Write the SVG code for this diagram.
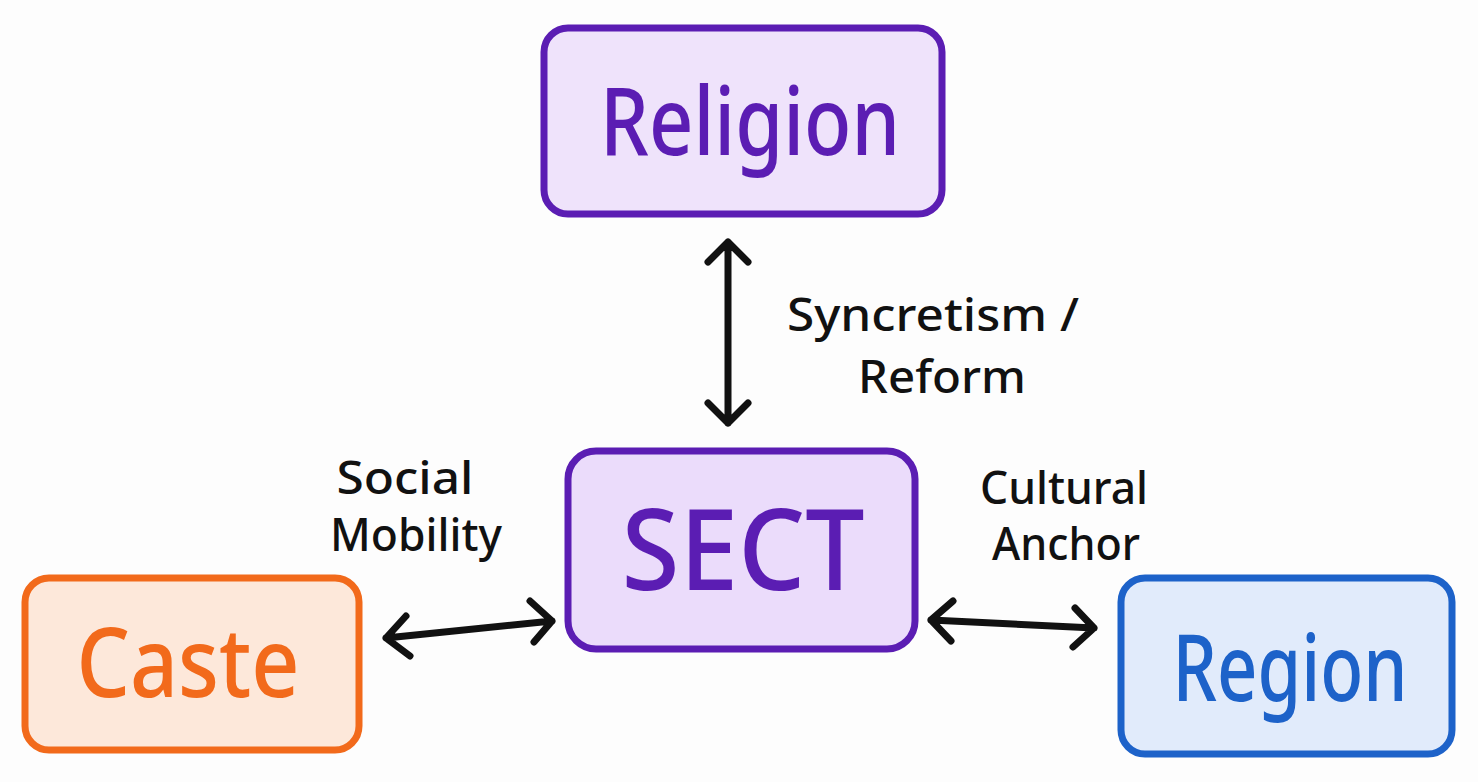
<svg xmlns="http://www.w3.org/2000/svg" width="1478" height="782" viewBox="0 0 1478 782">
<style>
.lbl{font-family:"Noto Sans","Liberation Sans",sans-serif;font-size:46px;font-weight:500;fill:#111;text-anchor:middle}
.nt{font-family:"Noto Sans","Liberation Sans",sans-serif;text-anchor:middle;font-weight:500}
.conn{fill:none;stroke:#111;stroke-width:7;stroke-linecap:round;stroke-linejoin:round}
</style>
<rect width="1478" height="782" fill="#fdfdfd"/>
<g id="connectors">
<path class="conn" d="M728 242 L728 423 M708 262 L728 242 L748 262 M708 403 L728 423 L748 403"/>
<path class="conn" d="M386 638 L552 621 M406 616 L386 638 L410 656 M530 601 L552 621 L534 642"/>
<path class="conn" d="M931 620 L1094 628 M953 601 L931 620 L951 641 M1075 608 L1094 628 L1073 647"/>
</g>
<g id="label-syncretism">
<text class="lbl" x="933" y="331" textLength="292" lengthAdjust="spacingAndGlyphs">Syncretism /</text>
<text class="lbl" x="942" y="393" textLength="168" lengthAdjust="spacingAndGlyphs">Reform</text>
</g>
<g id="label-social">
<text class="lbl" x="405" y="494" textLength="137" lengthAdjust="spacingAndGlyphs">Social</text>
<text class="lbl" x="416" y="551" textLength="172" lengthAdjust="spacingAndGlyphs">Mobility</text>
</g>
<g id="label-cultural">
<text class="lbl" x="1064" y="504" textLength="168" lengthAdjust="spacingAndGlyphs">Cultural</text>
<text class="lbl" x="1066" y="560" textLength="148" lengthAdjust="spacingAndGlyphs">Anchor</text>
</g>
<g id="node-religion">
<rect x="544" y="28" width="398" height="186" rx="24" fill="#efe3fb" stroke="#5b1db3" stroke-width="7"/>
<text class="nt" x="750" y="155" font-size="94" fill="#5b1db3" textLength="300" lengthAdjust="spacingAndGlyphs">Religion</text>
</g>
<g id="node-sect">
<rect x="568" y="451" width="347" height="198" rx="28" fill="#ebdcfb" stroke="#5b1db3" stroke-width="7"/>
<text class="nt" x="743" y="590" font-size="112" fill="#5b1db3" textLength="243" lengthAdjust="spacingAndGlyphs">SECT</text>
</g>
<g id="node-caste">
<rect x="25" y="578" width="334" height="172" rx="24" fill="#fde8da" stroke="#f26a1b" stroke-width="7"/>
<text class="nt" x="188" y="697" font-size="96" fill="#f26a1b" textLength="223" lengthAdjust="spacingAndGlyphs">Caste</text>
</g>
<g id="node-region">
<rect x="1121" y="578" width="331" height="176" rx="24" fill="#e1ebfb" stroke="#1d62c9" stroke-width="7"/>
<text class="nt" x="1290" y="701" font-size="92" fill="#1d62c9" textLength="235" lengthAdjust="spacingAndGlyphs">Region</text>
</g>
</svg>
